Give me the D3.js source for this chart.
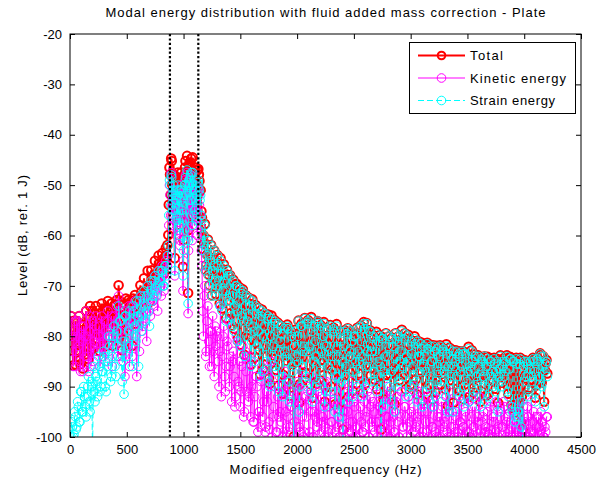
<!DOCTYPE html>
<html><head><meta charset="utf-8">
<script src="https://cdn.jsdelivr.net/npm/d3@7"></script>
<style>body{margin:0;background:#fff} svg{display:block} text{font-family:Arial,"Liberation Sans",Helvetica,sans-serif}</style>
</head><body><svg id="c" width="597" height="481"></svg>
<script>
// ---- data : modes, batch 1 ----
const freqHz = [
 8,22,35,48,60,74,88,101,115,128,142,157,170,184,199,213,228,243,257,272,
 288,303,318,334,349,365,381,396,412,428,444,460,476,492,508,524,540,556,572,588,
 604,620,636,652,668,684,700,716,732,748,764,780,796,812,828,844,858,
 876,887,896,905,914,923,932,941,950,959,968,977,986,995,1004,1013,1022,1031,1040,1049,
 1058,1067,1076,1085,1094,1103,1112,1121,1130,1140,
 1150,1162,1175,1188,1200,1214,1228,1242,1256,1270,
 1284,1298,1312,1326,1340,1354,1368,1382,1396,1410,
 1424,1438,1452,1466,1480,1494,1508,1522,1536,1550,
 1564,1578,1592,1606,1620,1634,1648,1662,1676,1690,
 1704,1718,1732,1746,1760,1774,1788,1802,1816,1830,
 1844,1858,1872,1886,1900,1914,1928,1942,1956,1970,
 1984,1998,2012,2026,2040,2054,2068,2082,2096,2110,
 2124,2138,2152,2166,2180,2194,2208,2222,2236,2250,
 2264,2278,2292,2306,2320,2334,2348,2362,2376,2390,
 2404,2418,2432,2446,2460,2474,2488,2502,2516,2530,
 2544,2558,2572,2586,2600,2614,2628,2642,2656,2670,
 2684,2698,2712,2726,2740,2754,2768,2782,2796,2810,
 2824,2838,2852,2866,2880,2894,2908,2922,2936,2950,
 2964,2978,2992,3006,3020,3034,3048,3062,3076,3090,
 3104,3118,3132,3146,3160,3174,3188,3202,3216,3230,
 3244,3258,3272,3286,3300,3314,3328,3342,3356,3370,
 3384,3398,3412,3426,3440,3454,3468,3482,3496,3510,
 3524,3538,3552,3566,3580,3594,3608,3622,3636,3650,
 3664,3678,3692,3706,3720,3734,3748,3762,3776,3790,
 3804,3818,3832,3846,3860,3874,3888,3902,3916,3930,
 3944,3958,3972,3986,4000,4014,4028,4042,4056,4070,
 4084,4098,4112,4126,4140,4154,4168,4182,4196
];
const totalDb = [
 -76,-82.9,-79,-85.6,-77,-81.7,-84.7,-77.8,-86.4,-79.7,
 -75,-81,-76.5,-83,-75,-78.5,-74,-80.5,-75.5,-77.5,
 -81.5,-74.5,-77,-73,-77,-73.5,-75.5,-79,-72.8,-69.9,
 -74.9,-82.8,-80.6,-72.5,-75.8,-74.7,-73,-72.5,-71.8,-72.9,
 -75.6,-69.9,-74.2,-68.5,-72.2,-67,-73.2,-66.9,-69.5,-65,
 -68.5,-64,-66.5,-63.5,-67.5,-62.5,-61.9,
 -46.5,-51.9,-45.2,-53.2,-47.9,-64.5,-48.9,-55.2,-47.5,-53.2,-57.9,-49.5,-52.9,-66.2,-49.9,-46.5,-56.9,-44.2,-71.4,-46.5,
 -51.2,-44.7,-56.2,-47.9,-53.9,-47.5,-50.9,-55.2,-46.8,-49.2,
 -51,-56.5,-60,-57.7,-65.9,-60.8,-69.9,-61.9,-66.5,-63,
 -71.6,-63.9,-69,-64.5,-74.5,-65.7,-71,-66.8,-71.5,-67.9,
 -77.9,-68.8,-74,-69.6,-80.4,-70.3,-75.9,-70.7,-83.7,-71.9,
 -76.2,-72.4,-85.6,-72.7,-78.9,-73.8,-81.4,-74.4,-87.6,-74.7,
 -79.8,-75.5,-84,-75.7,-89.4,-75.9,-81.8,-76.8,-86.7,-77.3,
 -81.8,-77.9,-91.4,-78.3,-83.7,-77.7,-88.6,-78.9,-85,-99.9,
 -78.7,-84.8,-76.9,-89.5,-77.5,-82.9,-76.4,-87.4,-76.8,-81.9,
 -76.2,-92.2,-77.9,-83,-77,-88.6,-77.8,-84.7,-77.2,-90.2,
 -78.4,-82.9,-77.8,-86.6,-78.3,-93.5,-77.6,-83.7,-79,-87.8,
 -98.5,-78.8,-85.7,-78.4,-82.2,-79,-90.8,-79.8,-84.9,-78.3,
 -87.4,-77.9,-83.9,-77.2,-89.4,-77.4,-85.8,-78.8,-82.8,-79.8,
 -88.6,-79.1,-84.7,-79.8,-98.5,-80.2,-86.7,-79.4,-83,-80,
 -91.5,-80.3,-85.8,-79.4,-87.9,-80,-84.7,-78.7,-87.6,-79.4,
 -83.9,-79.7,-90,-80.8,-85.8,-80,-88.5,-80.9,-83.9,-81.2,
 -92.8,-81.5,-86.6,-81.3,-89.6,-81.7,-84.8,-81.8,-91.2,-81.9,
 -86.8,-81.8,-87.5,-82.4,-85.7,-81.6,-93.8,-82.3,-87.6,-82.7,
 -85.9,-82.8,-90.4,-83,-86.6,-83,-92.5,-83.2,-88.6,-82.1,
 -85.9,-82.8,-91.1,-83.6,-87.7,-83.8,-87.9,-84.3,-86.5,-84,
 -91.8,-84.1,-88.6,-84.4,-86.9,-84.3,-90.4,-84.5,-87.8,-83.8,
 -89.2,-84.4,-86.7,-83.8,-91.4,-84.1,-93.6,-84.5,-95.2,-84.3,
 -94.3,-84.8,-97,-98.5,-84.7,-87.7,-84.9,-90.2,-84.8,-88.6,
 -84.6,-92.2,-84.3,-87.4,-83.4,-89.2,-84,-86.7,-84.7
];
const kineticDb = [
 -76,-83,-79,-86,-77,-82,-85,-78,-87,-80,
 -75,-84,-79,-86,-77,-81,-76,-83,-78,-80,
 -84,-77,-79,-75,-80,-76,-78,-82,-74,-72,
 -79,-84,-81,-75,-77,-86,-74,-78,-73,-88,
 -76,-74,-79,-72,-77,-70,-75,-71,-73,-68,
 -72,-67,-70,-66,-71,-65,-66,
 -50,-56,-48,-58,-52,-68,-53,-60,-51,-55,-62,-52,-57,-71,-54,-49,-59,-47.5,-75.5,-50,
 -56,-48,-61,-52,-58,-50,-55,-60,-51,-54,
 -58,-66,-80,-70,-83,-74,-86,-79,-76,-88,
 -82,-80,-90,-74,-84,-78,-91,-81,-77,-86,
 -93,-83,-94,-80,-89,-85,-91,-82,-95,-87,
 -84,-92,-96,-85,-97,-88,-90,-95,-98,-86,
 -93,-99,-91,-88,-98.5,-85,-96,-90,-99,-92,
 -88,-97,-100,-91,-95,-89,-99,-94,-92,-104,
 -90,-98,-93,-99,-87,-100,-94,-96,-91,-99,
 -88,-100,-95,-90,-97,-99.5,-92,-96,-89,-98,
 -94,-100,-91,-97,-93,-99,-88,-96,-100,-94,
 -101,-92,-98,-95,-90,-99,-97,-93,-100,-91,
 -96,-94,-99,-89,-98,-95,-100,-92,-97,-93,
 -99,-90,-97,-94,-101,-92,-99,-96,-90,-100,
 -97,-93,-99,-95,-92,-100,-96,-91,-98,-94,
 -100,-92,-97,-95,-99,-90,-98,-96,-100,-93,
 -99,-91,-97,-95,-100,-93,-98,-94,-99,-91,
 -100,-96,-93,-99,-97,-92,-100,-95,-98,-93,
 -100,-96,-99,-92,-97,-100,-98,-95,-99,-93,
 -100,-96,-98,-94,-100,-97,-92,-99,-96,-100,
 -98,-95,-99.5,-93,-100,-97,-99,-94,-100,-96,
 -98,-93,-99,-97,-100,-95,-98,-94,-100,-97,
 -99,-93,-100,-101,-96,-99,-94,-100,-97,-99,
 -95,-100,-98,-96,-99,-97,-100,-98,-96
];
const strainDb = [
 -100,-98,-99.5,-96,-98,-94,-97,-91,-95,-92,
 -96,-90,-93,-89,-104,-91,-88,-92,-86,-90,
 -87,-84,-91,-85,-82,-88,-80,-86,-79,-74,
 -77,-89,-91.5,-76,-82,-75,-80,-74,-78,-73,
 -86,-72,-76,-71,-74,-70,-78,-69,-72,-68,
 -71,-67,-69,-67,-70,-66,-64,
 -49,-54,-48.5,-55,-50,-67,-51,-57,-50,-58,-60,-53,-55,-68,-52,-50,-61,-47,-73.5,-49,
 -53,-47.5,-58,-50,-56,-51,-53,-57,-49,-51,
 -52,-57,-60,-58,-66,-61,-70,-62,-67,-63,
 -72,-64,-69,-65,-75,-66,-71,-67,-73,-68,
 -78,-69,-74,-70,-81,-70.5,-76,-71,-84,-72,
 -77,-72.5,-86,-73,-79,-74,-82,-74.5,-88,-75,
 -80,-75.5,-85,-76,-90,-76.5,-82,-77,-87,-77.5,
 -83,-78,-92,-78.5,-84,-78,-89,-79,-86,-102,
 -79,-85,-77,-90,-78,-83,-76.5,-88,-77,-82,
 -76.5,-93,-78,-84,-77,-89,-78,-85,-77.5,-91,
 -78.5,-83,-78,-87,-78.5,-95,-78,-84,-79,-89,
 -102,-79,-86,-78.5,-83,-79,-92,-80,-85,-78.5,
 -88,-78,-84,-77.5,-90,-77.5,-86,-79,-83,-80,
 -89,-79.5,-85,-80,-102,-80.5,-87,-79.5,-84,-80,
 -93,-80.5,-86,-79.5,-90,-80,-85,-79,-88,-79.5,
 -84,-80,-91,-81,-86,-80.5,-89,-81,-84,-81.5,
 -94,-82,-87,-81.5,-90,-82,-85,-82,-92,-82.5,
 -87,-82,-89,-82.5,-86,-82,-95,-82.5,-88,-83,
 -86,-83,-91,-83.5,-87,-83,-94,-83.5,-89,-82.5,
 -86,-83,-92,-84,-88,-84,-90,-84.5,-87,-84,
 -93,-84.5,-89,-85,-87,-84.5,-91,-85,-88,-84,
 -90,-85,-87,-84,-92,-84.5,-94,-85,-97,-84.5,
 -95,-85.5,-98,-102,-85,-88,-85.5,-91,-85,-89,
 -85,-93,-84.5,-88,-83.5,-90,-84,-87,-85
];
// ---- modes, batch 2 (interleaved between batch 1) ----
const freqHz2 = [
 15,29,41,54,67,81,94,108,121,135,150,163,177,191,206,220,235,250,264,280,
 295,310,326,341,357,373,388,404,420,436,452,468,484,500,516,532,548,564,580,596,
 612,628,644,660,676,692,708,724,740,756,772,788,804,820,836,851,866,
 870,881,891,900,909,918,927,936,945,954,963,972,981,990,999,1008,1017,1026,1035,1044,
 1053,1062,1071,1080,1089,1098,1107,1116,1125,1135,1145,
 1157,1169,1182,1195,1207,1221,1235,1249,1263,1277,
 1291,1305,1319,1333,1347,1361,1375,1389,1403,1417,
 1431,1445,1459,1473,1487,1501,1515,1529,1543,1557,
 1571,1585,1599,1613,1627,1641,1655,1669,1683,1697,
 1711,1725,1739,1753,1767,1781,1795,1809,1823,1837,
 1851,1865,1879,1893,1907,1921,1935,1949,1963,1977,
 1991,2005,2019,2033,2047,2061,2075,2089,2103,2117,
 2131,2145,2159,2173,2187,2201,2215,2229,2243,2257,
 2271,2285,2299,2313,2327,2341,2355,2369,2383,2397,
 2411,2425,2439,2453,2467,2481,2495,2509,2523,2537,
 2551,2565,2579,2593,2607,2621,2635,2649,2663,2677,
 2691,2705,2719,2733,2747,2761,2775,2789,2803,2817,
 2831,2845,2859,2873,2887,2901,2915,2929,2943,2957,
 2971,2985,2999,3013,3027,3041,3055,3069,3083,3097,
 3111,3125,3139,3153,3167,3181,3195,3209,3223,3237,
 3251,3265,3279,3293,3307,3321,3335,3349,3363,3377,
 3391,3405,3419,3433,3447,3461,3475,3489,3503,3517,
 3531,3545,3559,3573,3587,3601,3615,3629,3643,3657,
 3671,3685,3699,3713,3727,3741,3755,3769,3783,3797,
 3811,3825,3839,3853,3867,3881,3895,3909,3923,3937,
 3951,3965,3979,3993,4007,4021,4035,4049,4063,4077,
 4091,4105,4119,4133,4147,4161,4175,4189,4203
];
const totalDb2 = [
 -79.9,-85.8,-76.9,-82.9,-79.8,-76,-85.5,-80.8,-77.7,-83.6,
 -78,-84.5,-74,-79.5,-82.5,-75.5,-80.5,-77.5,-83,-73.5,
 -78,-82,-74.5,-78.2,-76.5,-81.9,-73.9,-77.5,-79.9,-72.9,
 -76.4,-79.5,-75.7,-77.8,-72.8,-75.8,-81.9,-72.9,-77.5,-72.5,
 -72.6,-71.2,-72.5,-72.2,-71.5,-70.2,-69.8,-68.2,-67.8,-67.9,
 -68.8,-65.5,-65.8,-65.9,-64.2,-64.5,-59.9,
 -53.9,-47.9,-44.7,-49.9,-48,-52.9,-49,-50.9,-54.2,-48.5,
 -48.9,-56.2,-47.5,-51.9,-60.9,-47.9,-45.2,-49.9,-47.5,-58.9,
 -47.9,-45.5,-50.9,-44.5,-48.9,-53.2,-46.5,-49.9,-47,-47.9,-51.2,
 -55.2,-62.7,-61.6,-66.9,-63.8,-67.8,-64.8,-71.9,-65.9,-68.5,
 -69.5,-65.9,-73.5,-67.5,-70.5,-68.9,-76.4,-67.8,-72.9,-75.4,
 -71.8,-78.5,-69.9,-74,-72.9,-81.7,-71.3,-76.9,-73.5,-79.7,
 -75.9,-73.6,-80.2,-77.9,-84.2,-75.3,-79,-82.7,-75.8,-86.5,
 -77.5,-81.9,-76.4,-88.4,-78.8,-83.9,-77.4,-84.5,-79,-89.8,
 -80.8,-79.1,-87.7,-81.5,-84.9,-78.4,-91.8,-79.8,-85.5,-81.9,
 -83.9,-79.5,-93.2,-77.9,-85.6,-81.9,-87.2,-77.3,-82.9,-89.5,
 -78.8,-84.9,-80.9,-89.4,-77.3,-86.2,-82.9,-79.9,-93,-81.2,
 -85.8,-80.3,-90,-83.9,-78.8,-86.2,-81.9,-94.5,-80.5,-84.7,
 -81.8,-87.7,-79.2,-92,-83.8,-80.4,-86.8,-79.8,-89.4,-82.5,
 -84.9,-80.9,-91.2,-78.4,-85.6,-82.4,-79,-87.8,-81.9,-86.4,
 -82.8,-90.5,-80.7,-85.8,-80.4,-92.5,-83.4,-87.7,-81.8,-87.5,
 -86.8,-81.8,-93.5,-83.5,-80.9,-88.7,-82.4,-85.7,-80.3,-90.5,
 -84.8,-81.6,-89.6,-83.3,-87,-81.4,-91.5,-83.2,-86.8,-82.3,
 -85.8,-83.7,-90.4,-82,-87.5,-84.9,-92.5,-82.6,-88.7,-85.6,
 -83.8,-89.6,-82.7,-86.7,-90.5,-83.4,-84.8,-88.7,-84.1,-93.2,
 -84.8,-87.2,-83.9,-90.8,-85.2,-83.4,-89.6,-85.1,-85.8,-92,
 -86.8,-84.5,-90.2,-84.4,-88.2,-85,-93,-84.7,-87.2,-89.5,
 -85.8,-91.4,-84.5,-87.5,-89,-85.4,-86,-93.2,-86.3,-88,
 -85.7,-87,-84.8,-89.8,-86.3,-84.2,-94.2,-84.6,-94.2,-85.3,
 -94.5,-84.3,-92,-85.4,-88.4,-84.9,-90.5,-86.3,-86.8,-84.3,
 -86.7,-89.8,-84.9,-88.9,-83.7,-85.7,-93,-85.3,-87.4
];
const kineticDb2 = [
 -80,-86,-77,-83,-80,-76,-87,-81,-78,-84,
 -80,-87,-76,-82,-85,-78,-83,-80,-86,-76,
 -81,-85,-77,-83,-79,-86,-76,-80,-84,-75,
 -77,-85,-88,-79,-74,-82,-84,-77,-80,-75,
 -83,-72,-78,-74,-81,-72,-76,-70,-74,-70,
 -75,-68,-72,-68,-69,-67,-64,
 -58,-52,-47.5,-54,-51,-57,-52,-55,-59,-51,
 -53,-61,-50,-56,-65,-52,-48,-54,-51,-63,
 -52,-49,-55,-47.5,-53,-58,-50,-54,-50.5,-52,-56,
 -63,-75,-72,-84,-77,-81,-79,-86,-83,-78,
 -79,-85,-83,-92,-80,-88,-86,-82,-90,-84,
 -85,-88,-92,-81,-90,-94,-86,-96,-83,-91,
 -93,-84,-90,-97,-92,-88,-99,-95,-89,-96,
 -87,-98,-93,-97,-85,-100,-94,-90,-99,-96,
 -95,-90,-99,-87,-100,-96,-98,-94,-91,-97,
 -100,-89,-98,-93,-96,-99,-92,-90,-100,-95,
 -92,-100,-96,-98,-91,-94,-99,-97,-100,-89,
 -99,-94,-97,-100,-93,-91,-98,-100,-90,-96,
 -95,-100,-91,-99,-97,-89,-100,-94,-98,-92,
 -100,-97,-99,-93,-96,-91,-100,-94,-98,-95,
 -97,-100,-93,-99,-95,-98,-92,-100,-96,-91,
 -100,-96,-99,-93,-97,-100,-91,-98,-94,-96,
 -98,-92,-100,-96,-94,-99,-97,-91,-100,-95,
 -100,-95,-99,-92,-97,-100,-98,-93,-100,-96,
 -97,-100,-94,-98,-96,-99,-91,-100,-95,-98,
 -99,-95,-100,-97,-93,-98,-100,-96,-92,-99,
 -100,-94,-98,-99,-96,-92,-100,-97,-95,-99,
 -99,-100,-94,-97,-96,-100,-93,-98,-99,-95,
 -98,-94,-100,-96,-99,-97,-100,-95,-99,-98,
 -100,-98,-99,-94,-97,-100,-96,-99,-93,-97,
 -99,-96,-100,-98,-95,-97,-100,-99,-96
];
const strainDb2 = [
 -97,-100,-95,-98.5,-93,-97,-91,-95,-90,-94,
 -92,-88,-95,-90,-86,-93,-89,-84,-91,-87,
 -83,-90,-86,-80,-89,-84,-78,-88,-82,-77,
 -85,-81,-76,-84,-79,-77,-86,-75,-81,-76,
 -73,-79,-74,-77,-72,-75,-71,-73,-69,-72,
 -70,-69,-67,-70,-66,-68,-62,
 -56,-50,-48,-52,-51,-55,-52,-53,-56,-52,
 -51,-58,-51,-54,-63,-50,-48.5,-52,-50,-61,
 -50,-48,-53,-47.5,-51,-55,-49,-52,-49.5,-50,-53,
 -56,-63,-62,-67,-64,-68,-65,-72,-66,-69,
 -70,-66,-74,-67.5,-71,-69,-77,-68,-73,-76,
 -72,-79,-70,-75,-73,-82,-71.5,-77,-74,-80,
 -76,-74,-81,-78,-85,-75.5,-79,-83,-76,-87,
 -78,-82,-76.5,-89,-80,-84,-77.5,-86,-79,-91,
 -81,-79.5,-88,-83,-85,-78.5,-93,-80,-87,-82,
 -84,-80,-95,-78,-86,-82,-89,-77.5,-83,-91,
 -79,-85,-81,-90,-77.5,-87,-83,-80,-94,-82,
 -86,-80.5,-91,-84,-79,-88,-82,-96,-81,-85,
 -82,-88,-79.5,-93,-84,-81,-87,-80,-90,-83,
 -85,-81,-92,-78.5,-86,-83,-79,-89,-82,-87,
 -83,-91,-81,-86,-80.5,-94,-84,-88,-82,-90,
 -87,-82,-95,-84,-81,-89,-83,-86,-80.5,-92,
 -85,-82,-90,-83.5,-88,-81.5,-93,-84,-87,-82.5,
 -86,-84,-91,-82.5,-88,-85,-94,-83,-89,-86,
 -84,-90,-83,-87,-92,-83.5,-86,-89,-84.5,-95,
 -85,-88,-84,-92,-86,-83.5,-90,-85.5,-87,-93,
 -87,-85,-91,-84.5,-89,-86,-94,-85,-88,-90,
 -86,-92,-85,-88,-90,-85.5,-87,-95,-86.5,-89,
 -86,-88,-85,-91,-86.5,-84.5,-95,-85,-96,-85.5,
 -96,-84.5,-93,-86,-89,-85,-92,-86.5,-88,-84.5,
 -87,-91,-85,-89.5,-84,-86,-94,-85.5,-88
];
const seriesNames = ["Total", "Kinetic energy", "Strain energy"];
const guideLinesHz = [880, 1130];
const xTicks = [0,500,1000,1500,2000,2500,3000,3500,4000,4500];
const yTicks = [-100,-90,-80,-70,-60,-50,-40,-30,-20];
const titleText = "Modal energy distribution with fluid added mass correction - Plate";
const xLabel = "Modified eigenfrequency (Hz)";
const yLabel = "Level (dB, ref. 1 J)";

// ---- merge the two batches, in frequency order ----
const allF = freqHz.concat(freqHz2);
const allT = totalDb.concat(totalDb2);
const allK = kineticDb.concat(kineticDb2);
const allS = strainDb.concat(strainDb2);
const order = d3.range(allF.length).sort((a, b) => allF[a] - allF[b]);

// ---- drawing ----
const W = 597, H = 481;
const m = {l: 70, r: 581, t: 34, b: 437};
const x = d3.scaleLinear().domain([0, 4500]).range([m.l, m.r]);
const y = d3.scaleLinear().domain([-100, -20]).range([m.b, m.t]);
const svg = d3.select('#c');
svg.append('rect').attr('width', W).attr('height', H).attr('fill', '#fff');
svg.append('defs').append('clipPath').attr('id', 'clip').append('rect')
  .attr('x', m.l).attr('y', m.t).attr('width', m.r - m.l).attr('height', m.b - m.t);

const styles = [
  {vals: allT, color: '#ff0000', lw: 2, dash: null,  r: 4.3, mw: 2},
  {vals: allK, color: '#ff00ff', lw: 1, dash: null,  r: 4.3, mw: 1},
  {vals: allS, color: '#00ffff', lw: 1, dash: '6,3', r: 4.3, mw: 1}
];
const plot = svg.append('g').attr('clip-path', 'url(#clip)');
styles.forEach(s => {
  const pts = order.filter(i => s.vals[i] !== undefined).map(i => [allF[i], s.vals[i]]);
  plot.append('path').datum(pts)
    .attr('d', d3.line().x(d => x(d[0])).y(d => y(d[1])))
    .attr('fill', 'none').attr('stroke', s.color).attr('stroke-width', s.lw)
    .attr('stroke-dasharray', s.dash);
  plot.append('g').selectAll('circle').data(pts).join('circle')
    .attr('cx', d => x(d[0])).attr('cy', d => y(d[1])).attr('r', s.r)
    .attr('fill', 'none').attr('stroke', s.color).attr('stroke-width', s.mw);
});
guideLinesHz.forEach(f => {
  plot.append('line').attr('x1', x(f)).attr('x2', x(f)).attr('y1', m.t).attr('y2', m.b)
    .attr('stroke', '#000').attr('stroke-width', 2.2).attr('stroke-dasharray', '2.2,2.2');
});

// axes
const fmt = d => String(d);
const gx = svg.append('g').attr('transform', `translate(0,${m.b})`)
  .call(d3.axisBottom(x).tickValues(xTicks).tickFormat(fmt).tickSizeInner(-5).tickSizeOuter(0).tickPadding(8));
const gxt = svg.append('g').attr('transform', `translate(0,${m.t})`)
  .call(d3.axisTop(x).tickValues(xTicks).tickFormat('').tickSizeInner(-5).tickSizeOuter(0));
const gy = svg.append('g').attr('transform', `translate(${m.l},0)`)
  .call(d3.axisLeft(y).tickValues(yTicks).tickFormat(fmt).tickSizeInner(-5).tickSizeOuter(0).tickPadding(8));
const gyr = svg.append('g').attr('transform', `translate(${m.r},0)`)
  .call(d3.axisRight(y).tickValues(yTicks).tickFormat('').tickSizeInner(-5).tickSizeOuter(0));
[gx, gxt, gy, gyr].forEach(g => {
  g.select('.domain').remove();
  g.selectAll('line').attr('stroke', '#000');
  g.selectAll('text').attr('fill', '#000').style('font-size', '13px');
});
svg.append('rect').attr('x', m.l).attr('y', m.t).attr('width', m.r - m.l).attr('height', m.b - m.t)
  .attr('fill', 'none').attr('stroke', '#000').attr('stroke-width', 1);

// titles (widths matched to the reference's loose glyph spacing)
function label(sel, w) {
  const len = sel.node().getComputedTextLength();
  if (len < w) sel.attr('textLength', w).attr('lengthAdjust', 'spacing');
  return sel;
}
label(svg.append('text').attr('x', (m.l + m.r) / 2).attr('y', 17).attr('text-anchor', 'middle')
  .style('font-size', '13px').text(titleText), 440);
label(svg.append('text').attr('x', (m.l + m.r) / 2).attr('y', 474).attr('text-anchor', 'middle')
  .style('font-size', '13px').text(xLabel), 192);
label(svg.append('text').attr('transform', `translate(27,${(m.t + m.b) / 2}) rotate(-90)`).attr('text-anchor', 'middle')
  .style('font-size', '13px').text(yLabel), 121);

// legend
const lg = svg.append('g');
lg.append('rect').attr('x', 409.5).attr('y', 42.5).attr('width', 166).attr('height', 71)
  .attr('fill', '#fff').attr('stroke', '#000').attr('stroke-width', 1);
const legendW = [33, 96, 85];
seriesNames.forEach((name, i) => {
  const s = styles[i];
  const yy = 55.5 + i * 22.5;
  lg.append('line').attr('x1', 418).attr('x2', 465).attr('y1', yy).attr('y2', yy)
    .attr('stroke', s.color).attr('stroke-width', s.lw).attr('stroke-dasharray', s.dash);
  lg.append('circle').attr('cx', 441.5).attr('cy', yy).attr('r', i === 0 ? 3.8 : s.r)
    .attr('fill', 'none').attr('stroke', s.color).attr('stroke-width', s.mw);
  label(lg.append('text').attr('x', 470).attr('y', yy + 4.5).style('font-size', '13px').text(name), legendW[i]);
});
</script></body></html>
